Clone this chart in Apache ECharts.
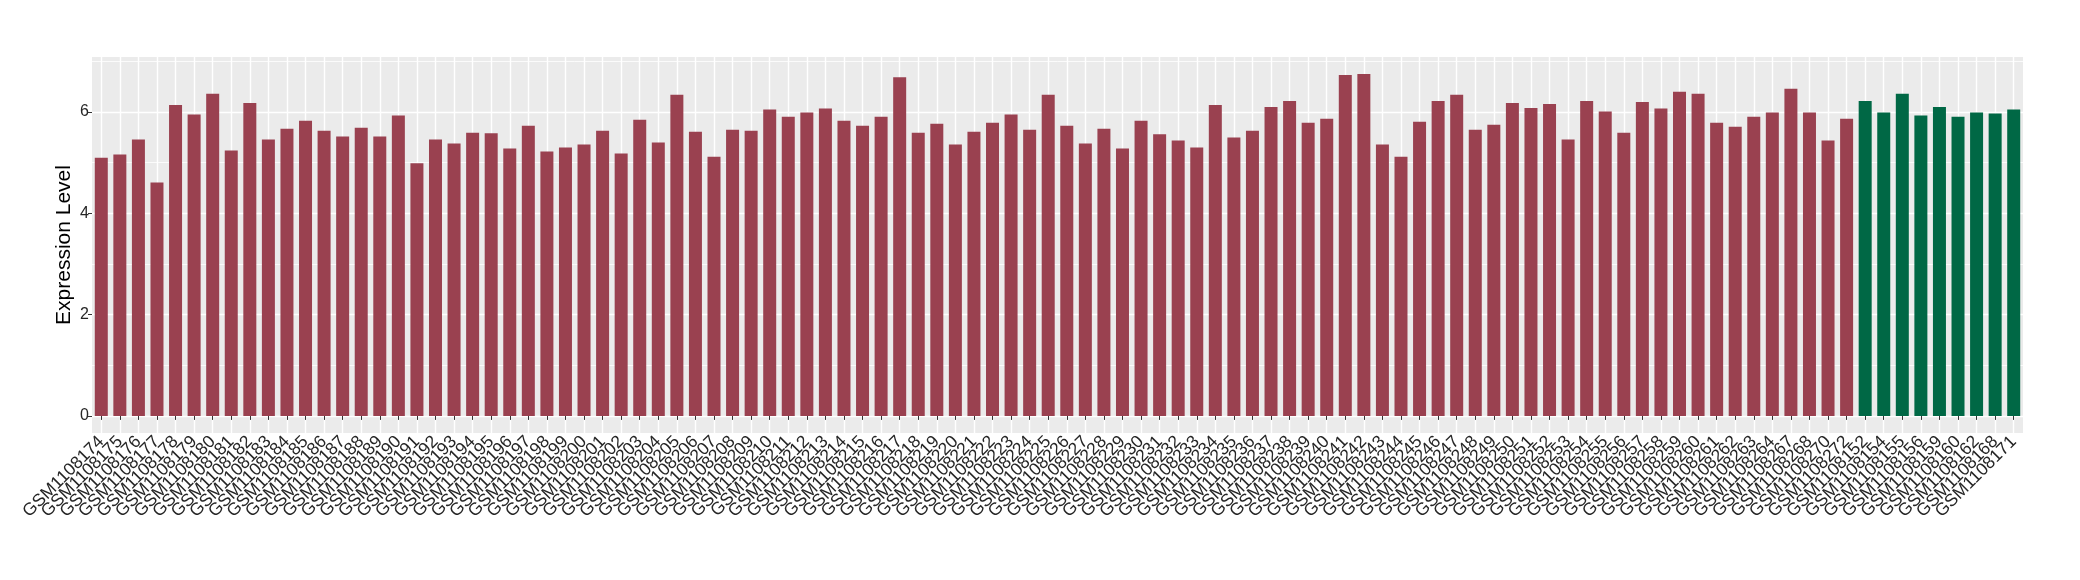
<!DOCTYPE html>
<html>
<head>
<meta charset="utf-8">
<script src="https://cdn.jsdelivr.net/npm/echarts@6/dist/echarts.min.js"></script>
<style>
  html, body { margin: 0; padding: 0; background: #fff; }
  #chart { width: 2080px; height: 580px; }
</style>
</head>
<body>
<div id="chart"></div>
<script>
// samples, first group (red)
const caseSamples = [
  'GSM1108174', 'GSM1108175', 'GSM1108176', 'GSM1108177', 'GSM1108178', 'GSM1108179', 'GSM1108180', 'GSM1108181',
  'GSM1108182', 'GSM1108183', 'GSM1108184', 'GSM1108185', 'GSM1108186', 'GSM1108187', 'GSM1108188', 'GSM1108189',
  'GSM1108190', 'GSM1108191', 'GSM1108192', 'GSM1108193', 'GSM1108194', 'GSM1108195', 'GSM1108196', 'GSM1108197',
  'GSM1108198', 'GSM1108199', 'GSM1108200', 'GSM1108201', 'GSM1108202', 'GSM1108203', 'GSM1108204', 'GSM1108205',
  'GSM1108206', 'GSM1108207', 'GSM1108208', 'GSM1108209', 'GSM1108210', 'GSM1108211', 'GSM1108212', 'GSM1108213',
  'GSM1108214', 'GSM1108215', 'GSM1108216', 'GSM1108217', 'GSM1108218', 'GSM1108219', 'GSM1108220', 'GSM1108221',
  'GSM1108222', 'GSM1108223', 'GSM1108224', 'GSM1108225', 'GSM1108226', 'GSM1108227', 'GSM1108228', 'GSM1108229',
  'GSM1108230', 'GSM1108231', 'GSM1108232', 'GSM1108233', 'GSM1108234', 'GSM1108235', 'GSM1108236', 'GSM1108237',
  'GSM1108238', 'GSM1108239', 'GSM1108240', 'GSM1108241', 'GSM1108242', 'GSM1108243', 'GSM1108244', 'GSM1108245',
  'GSM1108246', 'GSM1108247', 'GSM1108248', 'GSM1108249', 'GSM1108250', 'GSM1108251', 'GSM1108252', 'GSM1108253',
  'GSM1108254', 'GSM1108255', 'GSM1108256', 'GSM1108257', 'GSM1108258', 'GSM1108259', 'GSM1108260', 'GSM1108261',
  'GSM1108262', 'GSM1108263', 'GSM1108264', 'GSM1108267', 'GSM1108268', 'GSM1108270', 'GSM1108272'
];
const caseValues = [
  5.10, 5.16, 5.46, 4.61, 6.14, 5.95, 6.36, 5.24, 6.18, 5.46,
  5.67, 5.83, 5.63, 5.52, 5.69, 5.52, 5.93, 4.99, 5.46, 5.38,
  5.59, 5.58, 5.28, 5.73, 5.22, 5.30, 5.36, 5.63, 5.18, 5.85,
  5.40, 6.34, 5.61, 5.12, 5.65, 5.63, 6.05, 5.91, 5.99, 6.07,
  5.83, 5.73, 5.91, 6.69, 5.59, 5.77, 5.36, 5.61, 5.79, 5.95,
  5.65, 6.34, 5.73, 5.38, 5.67, 5.28, 5.83, 5.56, 5.44, 5.30,
  6.14, 5.50, 5.63, 6.10, 6.22, 5.79, 5.87, 6.73, 6.75, 5.36,
  5.12, 5.81, 6.22, 6.34, 5.65, 5.75, 6.18, 6.08, 6.16, 5.46,
  6.22, 6.01, 5.59, 6.20, 6.07, 6.40, 6.36, 5.79, 5.71, 5.91,
  5.99, 6.46, 5.99, 5.44, 5.87
];
// samples, second group (green)
const controlSamples = [
  'GSM1108152', 'GSM1108154', 'GSM1108155', 'GSM1108156', 'GSM1108159',
  'GSM1108160', 'GSM1108162', 'GSM1108168', 'GSM1108171'
];
const controlValues = [6.22, 5.99, 6.36, 5.93, 6.10, 5.91, 5.99, 5.97, 6.05];

const majorTicks = [0, 2, 4, 6];
const minorTicks = [1, 3, 5, 7];

const caseColor = '#9A4150';
const controlColor = '#006845';
const textColor = '#262626';
const fontFamily = 'Liberation Sans';

const categories = caseSamples.concat(controlSamples);
const barData = caseValues.map(v => ({ value: v, itemStyle: { color: caseColor } }))
  .concat(controlValues.map(v => ({ value: v, itemStyle: { color: controlColor } })));

// ggplot style range: 5% expansion around [0, max]
const dataMax = Math.max(...caseValues, ...controlValues);
const yMin = -dataMax * 0.05;
const yMax = dataMax * 1.05;

const chart = echarts.init(document.getElementById('chart'));
const option = {
  animation: false,
  grid: {
    left: 92,
    right: 57,
    top: 57,
    bottom: 147,
    show: true,
    backgroundColor: '#EBEBEB',
    borderWidth: 0
  },
  xAxis: {
    type: 'category',
    data: categories,
    axisLine: { show: false },
    axisTick: {
      show: true,
      interval: 0,
      alignWithLabel: true,
      length: 4,
      lineStyle: { color: '#333', width: 1 }
    },
    axisLabel: {
      interval: 0,
      rotate: 45,
      margin: 6,
      fontSize: 17.5,
      fontFamily: fontFamily,
      color: textColor
    },
    splitLine: {
      show: true,
      interval: 0,
      alignWithLabel: true,
      lineStyle: { color: '#fff', width: 1.4 }
    }
  },
  yAxis: [
    {
      // minor grid lines
      type: 'value',
      min: yMin,
      max: yMax,
      axisLine: { show: false },
      axisTick: { show: false, customValues: minorTicks },
      axisLabel: { show: false, customValues: minorTicks },
      splitLine: { show: true, lineStyle: { color: '#fff', width: 0.8 } }
    },
    {
      type: 'value',
      min: yMin,
      max: yMax,
      position: 'left',
      offset: 0,
      name: 'Expression Level',
      nameLocation: 'middle',
      nameGap: 17,
      nameMoveOverlap: false,
      nameTextStyle: { fontSize: 21, fontFamily: fontFamily, color: '#000' },
      axisLine: { show: false },
      axisTick: {
        show: true,
        customValues: majorTicks,
        length: 4,
        lineStyle: { color: '#333', width: 1 }
      },
      axisLabel: {
        customValues: majorTicks,
        margin: 3,
        fontSize: 16,
        fontFamily: fontFamily,
        color: textColor
      },
      splitLine: { show: true, lineStyle: { color: '#fff', width: 1.4 } }
    }
  ],
  series: [
    {
      type: 'bar',
      yAxisIndex: 0,
      barWidth: '70%',
      data: barData
    }
  ]
};
chart.setOption(option);
</script>
</body>
</html>
